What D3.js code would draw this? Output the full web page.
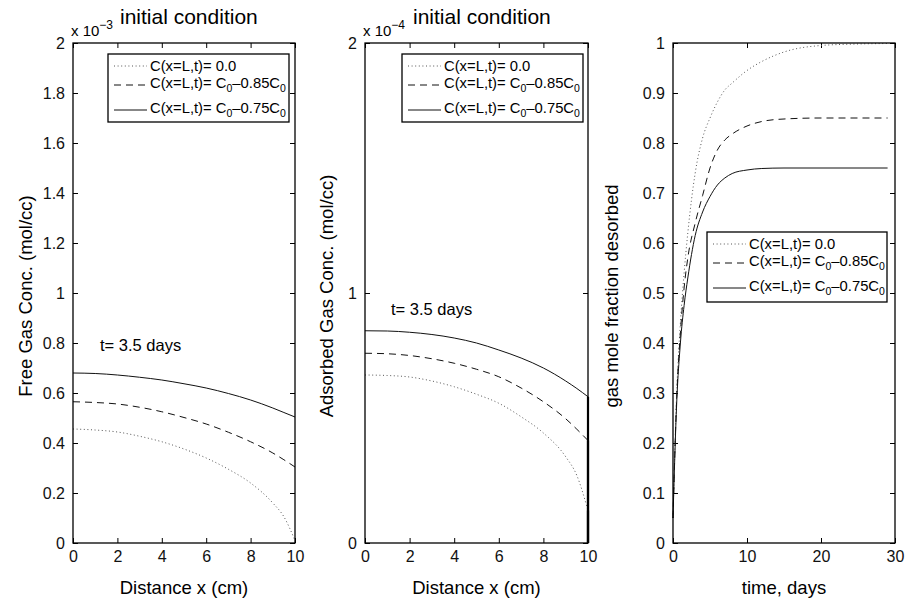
<!DOCTYPE html>
<html>
<head>
<meta charset="utf-8">
<style>
  body { margin: 0; background: #fff; }
  svg { font-family: 'Liberation Sans', Arial, sans-serif; }
  .tick text { font-size: 16px; fill: #111; }
  .tick line { stroke: #000; stroke-width: 1; }
</style>
</head>
<body>
<svg width="910" height="602"></svg>

<script src="https://d3js.org/d3.v7.min.js"></script>
<script>
// ---- data ----
// panels 1 and 2: distance along the sample (cm)
let distX = [0, 1, 2, 3, 4, 5, 6, 7, 8, 9, 9.5, 10];

// free gas conc., units of 1e-3 mol/cc
let freeZero = [0.456, 0.452, 0.444, 0.427, 0.405, 0.376, 0.34, 0.295, 0.24, 0.16, 0.105, 0.01];
let free085 = [0.565, 0.562, 0.556, 0.543, 0.525, 0.502, 0.476, 0.443, 0.405, 0.36, 0.333, 0.304];
let free075 = [0.68, 0.678, 0.672, 0.663, 0.652, 0.637, 0.62, 0.598, 0.572, 0.54, 0.522, 0.504];

// adsorbed gas conc., units of 1e-4 mol/cc (each drops to 0 at x = 10)
let adsZero = [0.672, 0.67, 0.664, 0.648, 0.625, 0.595, 0.559, 0.505, 0.44, 0.345, 0.27, 0.13];
let ads085 = [0.759, 0.757, 0.75, 0.737, 0.719, 0.695, 0.665, 0.62, 0.565, 0.497, 0.455, 0.41];
let ads075 = [0.849, 0.848, 0.843, 0.834, 0.82, 0.8, 0.772, 0.74, 0.7, 0.648, 0.618, 0.585];

// panel 3: time (days) vs mole fraction desorbed
let timeT = [0, 0.5, 1, 1.5, 2, 3, 4, 5, 6, 7, 8, 10, 12, 15, 20, 25, 29];
let fracZero = [0.05, 0.3, 0.44, 0.54, 0.62, 0.74, 0.81, 0.85, 0.882, 0.906, 0.92, 0.945, 0.963, 0.982, 0.995, 0.998, 0.999];
let frac085 = [0.05, 0.29, 0.42, 0.51, 0.57, 0.64, 0.695, 0.75, 0.786, 0.806, 0.818, 0.834, 0.843, 0.848, 0.85, 0.85, 0.85];
let frac075 = [0.05, 0.28, 0.4, 0.475, 0.53, 0.615, 0.662, 0.693, 0.716, 0.73, 0.739, 0.746, 0.749, 0.75, 0.75, 0.75, 0.75];

// ticks
let distTicks = [0, 2, 4, 6, 8, 10];
let freeTicks = [0, 0.2, 0.4, 0.6, 0.8, 1, 1.2, 1.4, 1.6, 1.8, 2];
let adsTicks = [0, 1, 2];
let timeTicks = [0, 10, 20, 30];
let fracTicks = [0, 0.1, 0.2, 0.3, 0.4, 0.5, 0.6, 0.7, 0.8, 0.9, 1];

let legendLabels = ["C(x=L,t)= 0.0", "C(x=L,t)= C_0\u20130.85C_0", "C(x=L,t)= C_0\u20130.75C_0"];

// ---- drawing ----
let svg = d3.select("svg");
let plotTop = 43, plotBottom = 543;

let styles = [
  { stroke: "#555", dash: "1,2.6", width: 1 },
  { stroke: "#111", dash: "7,5", width: 1 },
  { stroke: "#111", dash: null, width: 1 }
];

function drawPanel(opt) {
  let g = svg.append("g");
  let x = d3.scaleLinear().domain(opt.xDomain).range([opt.left, opt.right]);
  let y = d3.scaleLinear().domain(opt.yDomain).range([plotBottom, plotTop]);

  let ax = [
    g.append("g").attr("transform", `translate(0,${plotBottom})`)
      .call(d3.axisBottom(x).tickValues(opt.xTicks).tickSize(-5).tickPadding(8)),
    g.append("g").attr("transform", `translate(0,${plotTop})`)
      .call(d3.axisTop(x).tickValues(opt.xTicks).tickSize(-5).tickFormat("")),
    g.append("g").attr("transform", `translate(${opt.left},0)`)
      .call(d3.axisLeft(y).tickValues(opt.yTicks).tickSize(-5).tickPadding(8).tickFormat(d => String(d))),
    g.append("g").attr("transform", `translate(${opt.right},0)`)
      .call(d3.axisRight(y).tickValues(opt.yTicks).tickSize(-5).tickFormat(""))
  ];
  ax.forEach(a => {
    a.select(".domain").remove();
    a.attr("font-family", null).attr("font-size", null);
  });

  let line = d3.line()
    .x(d => x(d[0]))
    .y(d => y(d[1]))
    .curve(d3.curveMonotoneX);

  opt.series.forEach((s, i) => {
    let pts = opt.xs.map((v, k) => [v, s[k]]);
    let st = styles[i];
    g.append("path")
      .attr("d", line(pts))
      .attr("fill", "none")
      .attr("stroke", st.stroke)
      .attr("stroke-width", st.width)
      .attr("stroke-dasharray", st.dash);
    if (opt.dropToZero) {
      let last = pts[pts.length - 1];
      g.append("line")
        .attr("x1", x(last[0])).attr("x2", x(last[0]))
        .attr("y1", y(last[1])).attr("y2", y(0))
        .attr("stroke", "#000")
        .attr("stroke-width", 2.2);
    }
  });

  // box
  g.append("rect")
    .attr("x", opt.left).attr("y", plotTop)
    .attr("width", opt.right - opt.left).attr("height", plotBottom - plotTop)
    .attr("fill", "none").attr("stroke", "#000").attr("stroke-width", 1.3);

  // axis labels
  g.append("text")
    .attr("x", (opt.left + opt.right) / 2).attr("y", 594)
    .attr("text-anchor", "middle").attr("font-size", 18.5)
    .text(opt.xLabel);
  g.append("text")
    .attr("transform", `translate(${opt.yLabelX},296) rotate(-90)`)
    .attr("text-anchor", "middle").attr("font-size", 18.5)
    .text(opt.yLabel);

  if (opt.exponent) {
    let e = g.append("text").attr("x", opt.left - 2).attr("y", 36).attr("font-size", 15);
    e.append("tspan").text("x 10");
    e.append("tspan").attr("dy", -7).attr("font-size", 12).text(opt.exponent);
  }
  if (opt.title) {
    g.append("text").attr("x", opt.title[0]).attr("y", 24)
      .attr("font-size", 21).text("initial condition");
  }
  if (opt.note) {
    g.append("text").attr("x", opt.note[0]).attr("y", opt.note[1])
      .attr("font-size", 16.5).text("t= 3.5 days");
  }

  // legend
  let L = opt.legend;
  let lg = g.append("g").attr("transform", `translate(${L[0]},${L[1]})`);
  lg.append("rect").attr("width", L[2]).attr("height", L[3])
    .attr("fill", "#fff").attr("stroke", "#000").attr("stroke-width", 1.3);
  let textY = [17, 34, 59], lineY = [12, 31, 56];
  legendLabels.forEach((lab, i) => {
    let st = styles[i];
    lg.append("line")
      .attr("x1", 6).attr("x2", 39).attr("y1", lineY[i]).attr("y2", lineY[i])
      .attr("stroke", st.stroke).attr("stroke-width", st.width)
      .attr("stroke-dasharray", st.dash);
    let t = lg.append("text").attr("x", 42).attr("y", textY[i]).attr("font-size", 14.8);
    lab.split("_0").forEach((part, k, arr) => {
      t.append("tspan").attr("dy", k > 0 ? -4 : 0).text(part);
      if (k < arr.length - 1) t.append("tspan").attr("dy", 4).attr("font-size", 10.5).text("0");
    });
  });
}

drawPanel({
  left: 73, right: 295,
  xDomain: [0, 10], yDomain: [0, 2],
  xTicks: distTicks, yTicks: freeTicks,
  xs: distX, series: [freeZero, free085, free075],
  xLabel: "Distance x (cm)", yLabel: "Free Gas Conc. (mol/cc)", yLabelX: 32,
  exponent: "\u22123", title: [120], note: [100, 351],
  legend: [108, 54, 181, 68]
});

drawPanel({
  left: 365, right: 588,
  xDomain: [0, 10], yDomain: [0, 2],
  xTicks: distTicks, yTicks: adsTicks,
  xs: distX, series: [adsZero, ads085, ads075], dropToZero: true,
  xLabel: "Distance x (cm)", yLabel: "Adsorbed Gas Conc. (mol/cc)", yLabelX: 333,
  exponent: "\u22124", title: [413], note: [391, 315],
  legend: [402, 54, 181, 68]
});

drawPanel({
  left: 673, right: 895,
  xDomain: [0, 30], yDomain: [0, 1],
  xTicks: timeTicks, yTicks: fracTicks,
  xs: timeT, series: [fracZero, frac085, frac075],
  xLabel: "time, days", yLabel: "gas mole fraction desorbed", yLabelX: 618,
  legend: [707, 232, 180, 70]
});
</script>
</body>
</html>
